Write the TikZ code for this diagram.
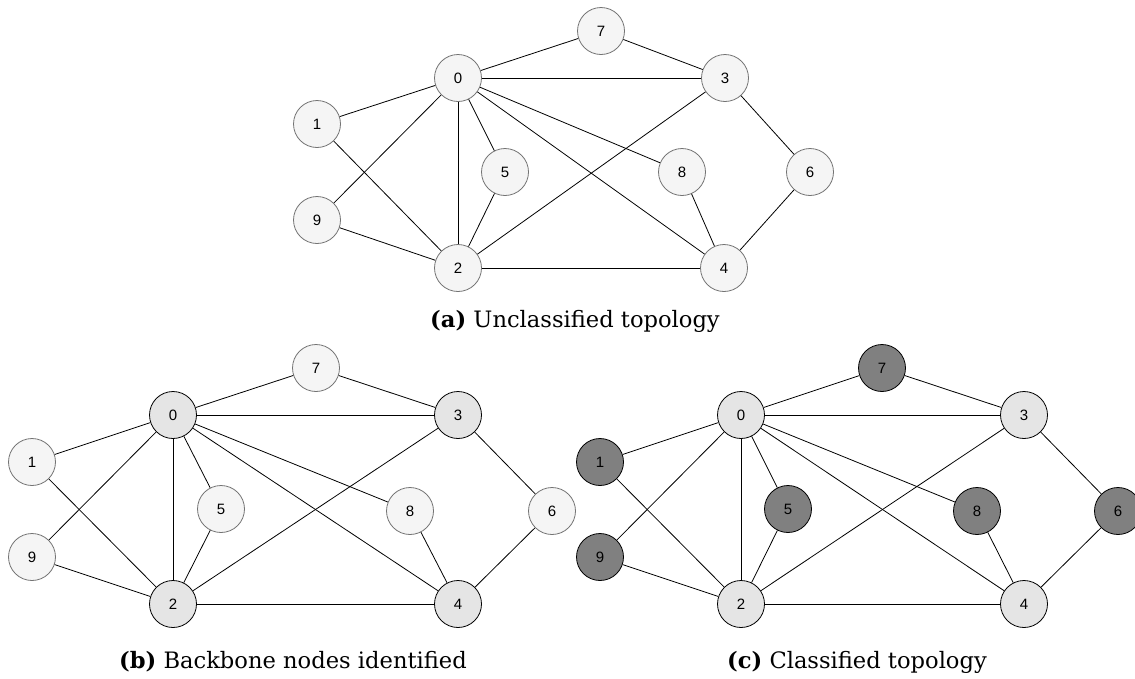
\documentclass[tikz,border=0pt]{standalone}
\usepackage{fontspec}
\setmainfont{DejaVu Serif}
\setsansfont{Liberation Sans}
\begin{document}
\begin{tikzpicture}[x=1pt,y=-1pt,
  vtx/.style={circle,minimum size=47pt,inner sep=0pt,draw=black!55,fill=black!4,line width=0.8pt,font=\sffamily\fontsize{15}{17}\selectfont},
  bb/.style={draw=black,fill=black!10},
  cl/.style={draw=black,fill=black!50},
  lnk/.style={line width=0.8pt,black},
  captxt/.style={anchor=base,inner sep=0pt,font=\fontsize{22.6}{26}\selectfont}]
\useasboundingbox (0,0) rectangle (1135,678);
% ---------- panel (a) ----------
\node[vtx] (a0) at (458,78) {0};
\node[vtx] (a7) at (601,31) {7};
\node[vtx] (a3) at (725,78) {3};
\node[vtx] (a1) at (317,124) {1};
\node[vtx] (a9) at (317,220) {9};
\node[vtx] (a5) at (505,172) {5};
\node[vtx] (a8) at (682,172) {8};
\node[vtx] (a6) at (810,172) {6};
\node[vtx] (a2) at (458,268) {2};
\node[vtx] (a4) at (724,268) {4};
% ---------- panel (b) ----------
\node[vtx,bb] (b0) at (173,415) {0};
\node[vtx] (b7) at (316,368) {7};
\node[vtx,bb] (b3) at (458,415) {3};
\node[vtx] (b1) at (32,462) {1};
\node[vtx] (b9) at (32,557) {9};
\node[vtx] (b5) at (221,509) {5};
\node[vtx] (b8) at (410,511) {8};
\node[vtx] (b6) at (552,511) {6};
\node[vtx,bb] (b2) at (173,604) {2};
\node[vtx,bb] (b4) at (458,604) {4};
% ---------- panel (c) ----------
\node[vtx,bb] (c0) at (741,415) {0};
\node[vtx,cl] (c7) at (882,368) {7};
\node[vtx,bb] (c3) at (1024,415) {3};
\node[vtx,cl] (c1) at (600,462) {1};
\node[vtx,cl] (c9) at (600,557) {9};
\node[vtx,cl] (c5) at (788,509) {5};
\node[vtx,cl] (c8) at (977,511) {8};
\node[vtx,cl] (c6) at (1118,511) {6};
\node[vtx,bb] (c2) at (741,604) {2};
\node[vtx,bb] (c4) at (1024,604) {4};
% ---------- edges ----------
\foreach \p in {a,b,c}{
  \foreach \u/\v in {0/7,7/3,0/3,0/1,0/9,0/2,0/5,0/8,0/4,1/2,9/2,5/2,2/3,2/4,8/4,3/6,6/4}{
    \draw[lnk] (\p\u) -- (\p\v);
  }
}
% ---------- captions ----------
\node[captxt] (capa) at (575,327) {\textbf{(a)} Unclassified topology};
\node[captxt] (capb) at (293,668) {\textbf{(b)} Backbone nodes identified};
\node[captxt] (capc) at (857,668) {\textbf{(c)} Classified topology};
\end{tikzpicture}
\end{document}
